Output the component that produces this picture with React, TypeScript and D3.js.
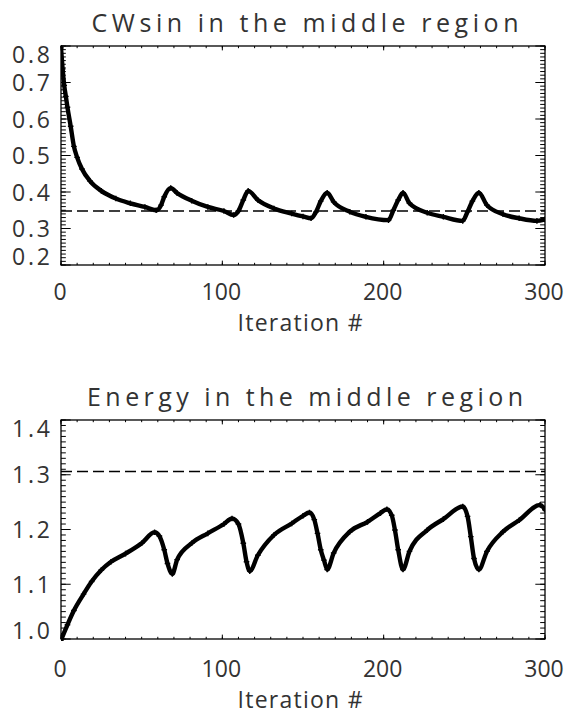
import * as d3 from 'd3';

// iteration # and values
const CW_ITER = [0, 1, 2, 3, 4, 6, 8, 10, 13, 18, 25, 34, 43, 52, 59, 62, 64, 68, 72, 81, 91, 101, 107, 110, 113, 116, 122, 132, 143, 150, 155, 158, 161, 165, 169, 179, 189, 203, 206, 209, 212, 216, 227, 237, 249, 252, 255, 259, 264, 274, 284, 295, 300];
const CW_VALUES = [0.795, 0.737, 0.692, 0.662, 0.632, 0.58, 0.525, 0.495, 0.463, 0.43, 0.403, 0.382, 0.369, 0.359, 0.35, 0.364, 0.387, 0.411, 0.397, 0.376, 0.359, 0.348, 0.337, 0.348, 0.378, 0.403, 0.378, 0.355, 0.341, 0.333, 0.328, 0.345, 0.375, 0.398, 0.373, 0.346, 0.332, 0.323, 0.35, 0.378, 0.398, 0.369, 0.343, 0.332, 0.321, 0.346, 0.375, 0.398, 0.364, 0.339, 0.328, 0.321, 0.325];
const CW_REF = 0.348;

const EN_ITER = [0, 4, 8, 14, 19, 25, 31, 40, 50, 58, 61, 64, 66, 69, 72, 81, 91, 101, 106, 110, 113, 115, 117, 122, 132, 143, 150, 154, 157, 159, 161, 163, 165, 169, 179, 190, 198, 202, 205, 207, 209, 212, 216, 227, 237, 249, 252, 254, 256, 259, 264, 274, 284, 297, 300];
const EN_VALUES = [0.998, 1.026, 1.052, 1.082, 1.105, 1.126, 1.141, 1.156, 1.175, 1.195, 1.188, 1.163, 1.138, 1.119, 1.145, 1.175, 1.193, 1.21, 1.22, 1.21, 1.175, 1.141, 1.124, 1.153, 1.19, 1.211, 1.225, 1.231, 1.218, 1.193, 1.163, 1.144, 1.127, 1.157, 1.196, 1.214, 1.23, 1.237, 1.226, 1.199, 1.163, 1.127, 1.16, 1.199, 1.219, 1.242, 1.224, 1.187, 1.147, 1.127, 1.16, 1.196, 1.217, 1.245, 1.236];
const EN_REF = 1.306;

const X_TICKS = [0, 100, 200, 300];
const CW_TICKS = [0.2, 0.3, 0.4, 0.5, 0.6, 0.7, 0.8];
const EN_TICKS = [1.0, 1.1, 1.2, 1.3, 1.4];

const FONT = '"Open Sans", "DejaVu Sans", sans-serif';
const INK = '#333';

type PanelProps = {
  title: string;
  titleLen: number;
  top: number;
  iters: number[];
  values: number[];
  yDomain: [number, number];
  yTicks: number[];
  yMinorCount: number;
  refValue: number;
  labelDy: number;
};

function Panel({ title, titleLen, top, iters, values, yDomain, yTicks, yMinorCount, refValue, labelDy }: PanelProps) {
  const left = 61, right = 545, bottom = top + 219;
  const x = d3.scaleLinear().domain([0, 300]).range([left, right]);
  const y = d3.scaleLinear().domain(yDomain).range([bottom, top]);

  const xMinor = x.ticks(30);
  const yMinor = y.ticks(yMinorCount);

  const pts = iters.map((it, i) => [it, values[i]] as [number, number]);
  const line = d3.line<[number, number]>()
    .x((d) => x(d[0]))
    .y((d) => y(d[1]))
    .curve(d3.curveMonotoneX);

  const plotW = right - left, plotH = bottom - top;
  const xMaj = plotH * 0.02, xMin = xMaj / 2;
  const yMaj = plotW * 0.02, yMin = yMaj / 2;
  const labH = 17;

  return (
    <g>
      <text x={305} y={top - 14} fontSize={25} fill={INK} fontFamily={FONT}
        textAnchor="middle" textLength={titleLen} lengthAdjust="spacing">{title}</text>

      <defs>
        <clipPath id={`clip-${top}`}>
          <rect x={left} y={top - 2} width={plotW} height={plotH + 4} />
        </clipPath>
      </defs>

      {/* minor ticks on all four sides */}
      <g stroke="#000" strokeWidth={1}>
        {xMinor.map((t) => (
          <g key={`xm${t}`}>
            <line x1={x(t)} x2={x(t)} y1={bottom} y2={bottom - xMin} />
            <line x1={x(t)} x2={x(t)} y1={top} y2={top + xMin} />
          </g>
        ))}
        {yMinor.map((t) => (
          <g key={`ym${t}`}>
            <line x1={left} x2={left + yMin} y1={y(t)} y2={y(t)} />
            <line x1={right} x2={right - yMin} y1={y(t)} y2={y(t)} />
          </g>
        ))}
        {X_TICKS.map((t) => (
          <g key={`xM${t}`}>
            <line x1={x(t)} x2={x(t)} y1={bottom} y2={bottom - xMaj} />
            <line x1={x(t)} x2={x(t)} y1={top} y2={top + xMaj} />
          </g>
        ))}
        {yTicks.map((t) => (
          <g key={`yM${t}`}>
            <line x1={left} x2={left + yMaj} y1={y(t)} y2={y(t)} />
            <line x1={right} x2={right - yMaj} y1={y(t)} y2={y(t)} />
          </g>
        ))}
      </g>
      <rect x={left} y={top} width={plotW} height={plotH} fill="none" stroke="#000" strokeWidth={1.3} />

      {/* labels */}
      <g fontSize={23} fill={INK} fontFamily={FONT}>
        {yTicks.map((t) => {
          const cy = Math.min(Math.max(y(t), top + labH / 2), bottom - labH / 2);
          return (
            <text key={`yl${t}`} x={50} y={cy + labH / 2} textAnchor="end" textLength={38} lengthAdjust="spacing">{t.toFixed(1)}</text>
          );
        })}
        {X_TICKS.map((t) => (
          <text key={`xl${t}`} x={x(t) - 1} y={bottom + labelDy} textAnchor="middle">{t}</text>
        ))}
        <text x={300} y={bottom + labelDy + 31} textAnchor="middle" textLength={125} lengthAdjust="spacing">Iteration #</text>
      </g>

      <g clipPath={`url(#clip-${top})`}>
        <line x1={left} x2={right} y1={y(refValue)} y2={y(refValue)} stroke="#000" strokeWidth={1.6} strokeDasharray="11 5" />
        <path d={line(pts) ?? ''} fill="none" stroke="#000" strokeWidth={4.4} strokeLinejoin="round" strokeLinecap="round" />
        {pts.map((d, i) => (
          <path key={i} d={`M${x(d[0]) - 2.8},${y(d[1])}h5.6M${x(d[0])},${y(d[1]) - 2.8}v5.6`} stroke="#000" strokeWidth={1.4} />
        ))}
      </g>
    </g>
  );
}

export default function App() {
  return (
    <svg width={571} height={717} style={{ position: 'absolute', left: 0, top: 0, background: '#fff' }}>
      <rect width={571} height={717} fill="#fff" />
      <Panel title="CWsin in the middle region" titleLen={427} top={46} iters={CW_ITER} values={CW_VALUES}
        yDomain={[0.2, 0.8]} yTicks={CW_TICKS} yMinorCount={60} refValue={CW_REF} labelDy={35} />
      <Panel title="Energy in the middle region" titleLen={436} top={420} iters={EN_ITER} values={EN_VALUES}
        yDomain={[1.0, 1.4]} yTicks={EN_TICKS} yMinorCount={40} refValue={EN_REF} labelDy={37.5} />
    </svg>
  );
}
